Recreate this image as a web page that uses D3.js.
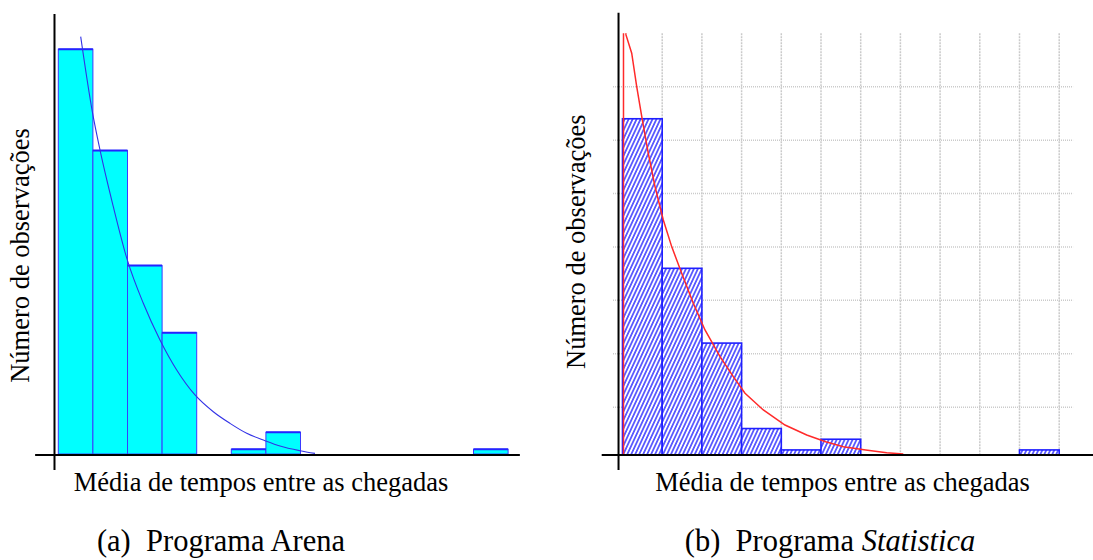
<!DOCTYPE html>
<html>
<head>
<meta charset="utf-8">
<script src="https://cdn.jsdelivr.net/npm/d3@7"></script>
<style>
  body { margin: 0; background: #fff; }
  text { font-family: "Liberation Serif", "Times New Roman", serif; fill: #000; }
</style>
</head>
<body>
<svg id="chart" width="1093" height="560"></svg>
<script>
// --- data ---
// (a) Arena: relative frequency per class (13 classes)
const arenaBins = [0,1,2,3,4,5,6,7,8,9,10,11,12];
const arenaFreq = [25.76, 19.31, 11.99, 7.72, 0, 0.30, 1.38, 0, 0, 0, 0, 0, 0.30];
// fitted exponential curve, [class position, frequency]
const arenaCurve = [
  [0.647, 26.56], [0.983, 21.79], [1.205, 19.35], [1.590, 15.74], [1.994, 12.35],
  [2.457, 9.59], [2.939, 7.26], [3.422, 5.35], [3.951, 3.76], [4.480, 2.69],
  [4.962, 1.95], [5.445, 1.32], [5.974, 0.85], [6.408, 0.51], [6.986, 0.21], [7.419, 0.04]
];

// (b) Statistica: counts per class (11 classes), grid every 5
const statBins = [0,1,2,3,4,5,6,7,8,9,10];
const statCount = [32, 18, 11, 3, 1, 2, 0, 0, 0, 0, 1];
const statGridY = [5, 10, 15, 20, 25, 30, 35];
const statGridX = [1, 2, 3, 4, 5, 6, 7, 8, 9, 10, 11];
const statCurve = [
  [0.025, 0], [0.025, 44], [0.06, 41.5], [0.088, 39.85], [0.232, 38.14], [0.358, 35.01],
  [0.499, 31.89], [0.650, 28.77], [0.819, 25.65], [1.028, 22.53], [1.239, 20.03],
  [1.491, 17.54], [1.783, 14.73], [2.078, 12.23], [2.456, 9.73], [2.791, 7.86],
  [3.086, 6.30], [3.547, 4.74], [4.093, 3.33], [4.640, 2.40], [5.118, 1.77],
  [5.562, 1.30], [6.126, 0.99], [6.655, 0.74], [7.073, 0.62]
];

const xLabel = "Média de tempos entre as chegadas";
const yLabel = "Número de observações";

const svg = d3.select("#chart");

// hatch for the Statistica bars
const defs = svg.append("defs");
const pat = defs.append("pattern")
  .attr("id", "hatch")
  .attr("patternUnits", "userSpaceOnUse")
  .attr("width", 3.6).attr("height", 10)
  .attr("patternTransform", "rotate(25)");
pat.append("rect").attr("width", 3.6).attr("height", 10).attr("fill", "#fff");
pat.append("line").attr("x1", 0.9).attr("x2", 0.9).attr("y1", 0).attr("y2", 10)
  .attr("stroke", "#3838ff").attr("stroke-width", 1.5);

// ================= (a) Arena =================
const xL = d3.scaleLinear().domain([0, 13]).range([58.3, 508.1]);
const yL = d3.scaleLinear().domain([0, 28]).range([454, 14]);

const gL = svg.append("g");

gL.selectAll("rect.bar")
  .data(arenaBins.filter(i => arenaFreq[i] > 0))
  .enter().append("rect")
  .attr("class", "bar")
  .attr("x", i => xL(i))
  .attr("y", i => yL(arenaFreq[i]))
  .attr("width", xL(1) - xL(0))
  .attr("height", i => yL(0) - yL(arenaFreq[i]))
  .attr("fill", "#00ffff")
  .attr("stroke", "#3a3aff")
  .attr("stroke-width", 1);

gL.selectAll("line.top")
  .data(arenaBins.filter(i => arenaFreq[i] > 0))
  .enter().append("line")
  .attr("x1", i => xL(i)).attr("x2", i => xL(i + 1))
  .attr("y1", i => yL(arenaFreq[i])).attr("y2", i => yL(arenaFreq[i]))
  .attr("stroke", "#2424ff").attr("stroke-width", 2);

gL.append("path")
  .datum(arenaCurve)
  .attr("d", d3.line().x(d => xL(d[0])).y(d => yL(d[1])).curve(d3.curveMonotoneX))
  .attr("fill", "none")
  .attr("stroke", "#3232e6")
  .attr("stroke-width", 1.1);

// axes
gL.append("line")
  .attr("x1", xL(-0.67)).attr("x2", xL(13.34))
  .attr("y1", yL(-0.064)).attr("y2", yL(-0.064))
  .attr("stroke", "#000").attr("stroke-width", 2);
gL.append("line")
  .attr("x1", xL(-0.11)).attr("x2", xL(-0.11))
  .attr("y1", yL(28)).attr("y2", yL(-1.02))
  .attr("stroke", "#000").attr("stroke-width", 2);

gL.append("text")
  .attr("x", 261).attr("y", 491)
  .attr("text-anchor", "middle")
  .attr("font-size", 26.5)
  .text(xLabel);
gL.append("text")
  .attr("transform", "translate(29,255.5) rotate(-90)")
  .attr("text-anchor", "middle")
  .attr("font-size", 26.5)
  .text(yLabel);

// ================= (b) Statistica =================
const xR = d3.scaleLinear().domain([0, 12]).range([622.5, 1098.9]);
const yR = d3.scaleLinear().domain([0, 40]).range([460.6, 33.3]);
const baseR = 455;

defs.append("clipPath").attr("id", "plotR")
  .append("rect")
  .attr("x", xR(-0.5)).attr("y", yR(40))
  .attr("width", xR(12) - xR(-0.5)).attr("height", baseR - yR(40));

const gR = svg.append("g");

gR.selectAll("line.gy")
  .data(statGridY)
  .enter().append("line")
  .attr("x1", xR(-0.24)).attr("x2", xR(11.35))
  .attr("y1", d => yR(d)).attr("y2", d => yR(d))
  .attr("stroke", "#cacaca").attr("stroke-width", 1.5)
  .attr("stroke-dasharray", "1,1");

gR.selectAll("line.gx")
  .data(statGridX)
  .enter().append("line")
  .attr("x1", d => xR(d)).attr("x2", d => xR(d))
  .attr("y1", yR(40)).attr("y2", baseR)
  .attr("stroke", "#cacaca").attr("stroke-width", 1.5)
  .attr("stroke-dasharray", "2,1");

const gRc = gR.append("g").attr("clip-path", "url(#plotR)");

gRc.selectAll("rect.bar")
  .data(statBins.filter(i => statCount[i] > 0))
  .enter().append("rect")
  .attr("x", i => xR(i))
  .attr("y", i => yR(statCount[i]))
  .attr("width", xR(1) - xR(0))
  .attr("height", i => yR(0) - yR(statCount[i]))
  .attr("fill", "url(#hatch)")
  .attr("stroke", "#1f1fff")
  .attr("stroke-width", 1.6);

gRc.append("path")
  .datum(statCurve)
  .attr("d", d3.line().x(d => xR(d[0])).y(d => yR(d[1])))
  .attr("fill", "none")
  .attr("stroke", "#ff2a2a")
  .attr("stroke-width", 1.5);

gR.append("line")
  .attr("x1", xR(-0.524)).attr("x2", 1093)
  .attr("y1", baseR).attr("y2", baseR)
  .attr("stroke", "#000").attr("stroke-width", 2);
gR.append("line")
  .attr("x1", xR(-0.1)).attr("x2", xR(-0.1))
  .attr("y1", 12.7).attr("y2", 470)
  .attr("stroke", "#000").attr("stroke-width", 2);

gR.append("text")
  .attr("x", 842.5).attr("y", 491)
  .attr("text-anchor", "middle")
  .attr("font-size", 26.5)
  .text(xLabel);
gR.append("text")
  .attr("transform", "translate(585,241.7) rotate(-90)")
  .attr("text-anchor", "middle")
  .attr("font-size", 26.5)
  .text(yLabel);

// ================= captions =================
svg.append("text")
  .attr("x", 221).attr("y", 551)
  .attr("text-anchor", "middle")
  .attr("font-size", 30.5)
  .attr("xml:space", "preserve")
  .text("(a)  Programa Arena");

const capB = svg.append("text")
  .attr("x", 830).attr("y", 551)
  .attr("text-anchor", "middle")
  .attr("font-size", 30.5)
  .attr("xml:space", "preserve");
capB.append("tspan").text("(b)  Programa ");
capB.append("tspan").attr("font-style", "italic").text("Statistica");
</script>
</body>
</html>
